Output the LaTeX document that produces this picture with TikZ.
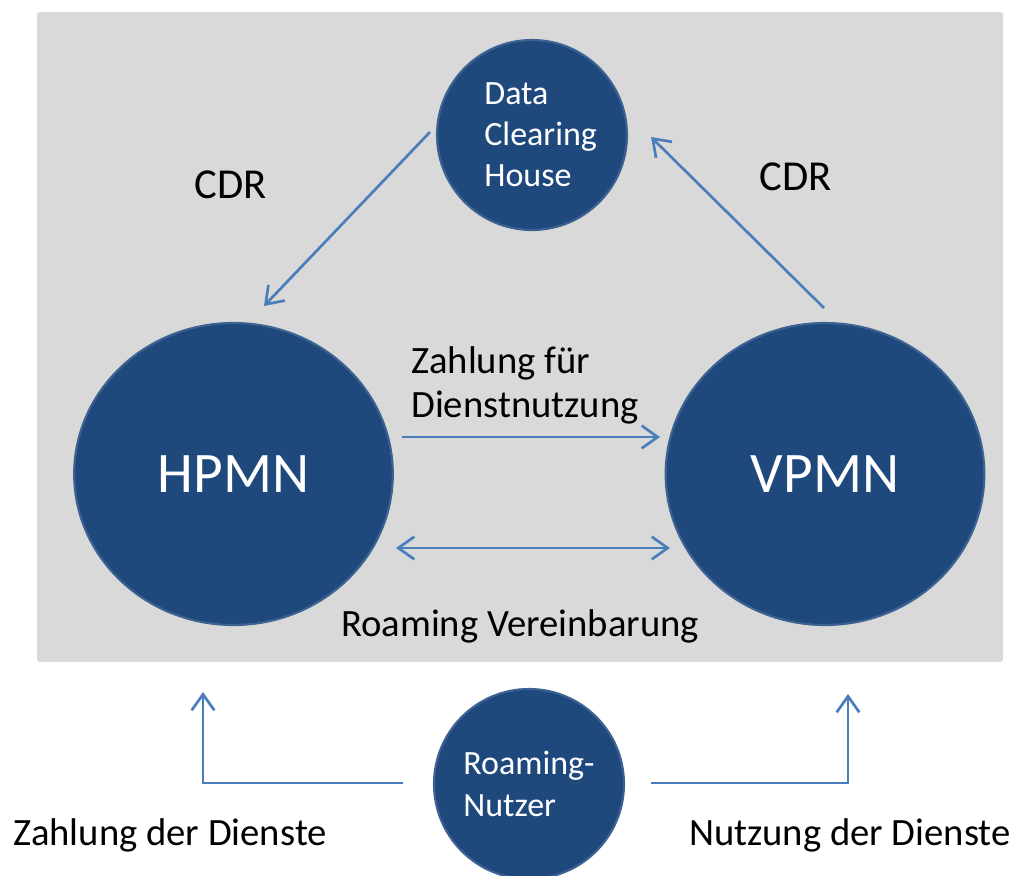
\documentclass[tikz,border=0pt]{standalone}
\usepackage{fontspec}
\setmainfont{Carlito}
\usetikzlibrary{arrows.meta,shapes.geometric}

\definecolor{netblue}{RGB}{31,73,125}
\definecolor{netrim}{RGB}{60,98,145}
\definecolor{flowblue}{RGB}{74,126,187}
\definecolor{panelgray}{RGB}{217,217,217}

\tikzset{
  net/.style={ellipse, fill=netblue, draw=netrim, line width=1.6pt,
    text=white, inner sep=0pt, align=left},
  flow/.style={draw=flowblue, line width=2pt},
  lbl/.style={inner sep=0pt, font=\fontsize{29}{33}\selectfont}
}

\begin{document}
\begin{tikzpicture}[x=0.75pt,y=-0.75pt,
  >={Straight Barb[length=12pt,width=17pt]}]
\useasboundingbox (0,0) rectangle (1013,875);
\clip (0,0) rectangle (1013,875);
\fill[panelgray, rounded corners=2pt] (37,12) rectangle (1003,662);

% netze
\node[net, minimum width=142.5pt, minimum height=142.5pt,
  font=\fontsize{25.5}{30.75}\selectfont] (dch) at (532,135)
  {\hspace*{13pt}Data\\\hspace*{13pt}Clearing\\\hspace*{13pt}House};
\node[net, minimum width=239pt, minimum height=226.5pt,
  font=\fontsize{43}{50}\selectfont] (hpmn) at (233.5,474) {HPMN};
\node[net, minimum width=239pt, minimum height=226.5pt,
  font=\fontsize{43}{50}\selectfont] (vpmn) at (825,474) {VPMN};
\node[net, minimum width=142.5pt, minimum height=142.5pt,
  font=\fontsize{25.5}{32}\selectfont] (user) at (529,784)
  {Roaming-\\Nutzer};

% beschriftungen
\node[lbl, font=\fontsize{32}{38}\selectfont, anchor=base] (cdr-l) at (231,198) {CDR};
\node[lbl, font=\fontsize{32}{38}\selectfont, anchor=base] (cdr-r) at (796,190) {CDR};
\node[lbl, align=left, anchor=base west] (pay) at (411,417) {Zahlung für\\Dienstnutzung};
\node[lbl, anchor=base] (deal) at (520,636) {Roaming Vereinbarung};
\node[lbl, anchor=base] (pay-user) at (170,845) {Zahlung der Dienste};
\node[lbl, anchor=base] (use-user) at (850,845) {Nutzung der Dienste};

% pfeilenden
\coordinate (cdrl-a) at (430,132);
\coordinate (cdrl-b) at (264,306);
\coordinate (cdrr-a) at (824,308);
\coordinate (cdrr-b) at (651,137);
\coordinate (pay-a) at (402,437);
\coordinate (pay-b) at (660,437);
\coordinate (deal-a) at (396,548);
\coordinate (deal-b) at (670,548);
\coordinate (user-l) at (403,783);
\coordinate (user-r) at (651,783);
\coordinate (home-in) at (203,692);
\coordinate (visit-in) at (848,694);

\draw[flow, ->] (cdrl-a) -- (cdrl-b);
\draw[flow, ->] (cdrr-a) -- (cdrr-b);
\draw[flow, ->] (pay-a) -- (pay-b);
\draw[flow, <->] (deal-a) -- (deal-b);
\draw[flow, ->] (user-l) -| (home-in);
\draw[flow, ->] (user-r) -| (visit-in);
\end{tikzpicture}
\end{document}
